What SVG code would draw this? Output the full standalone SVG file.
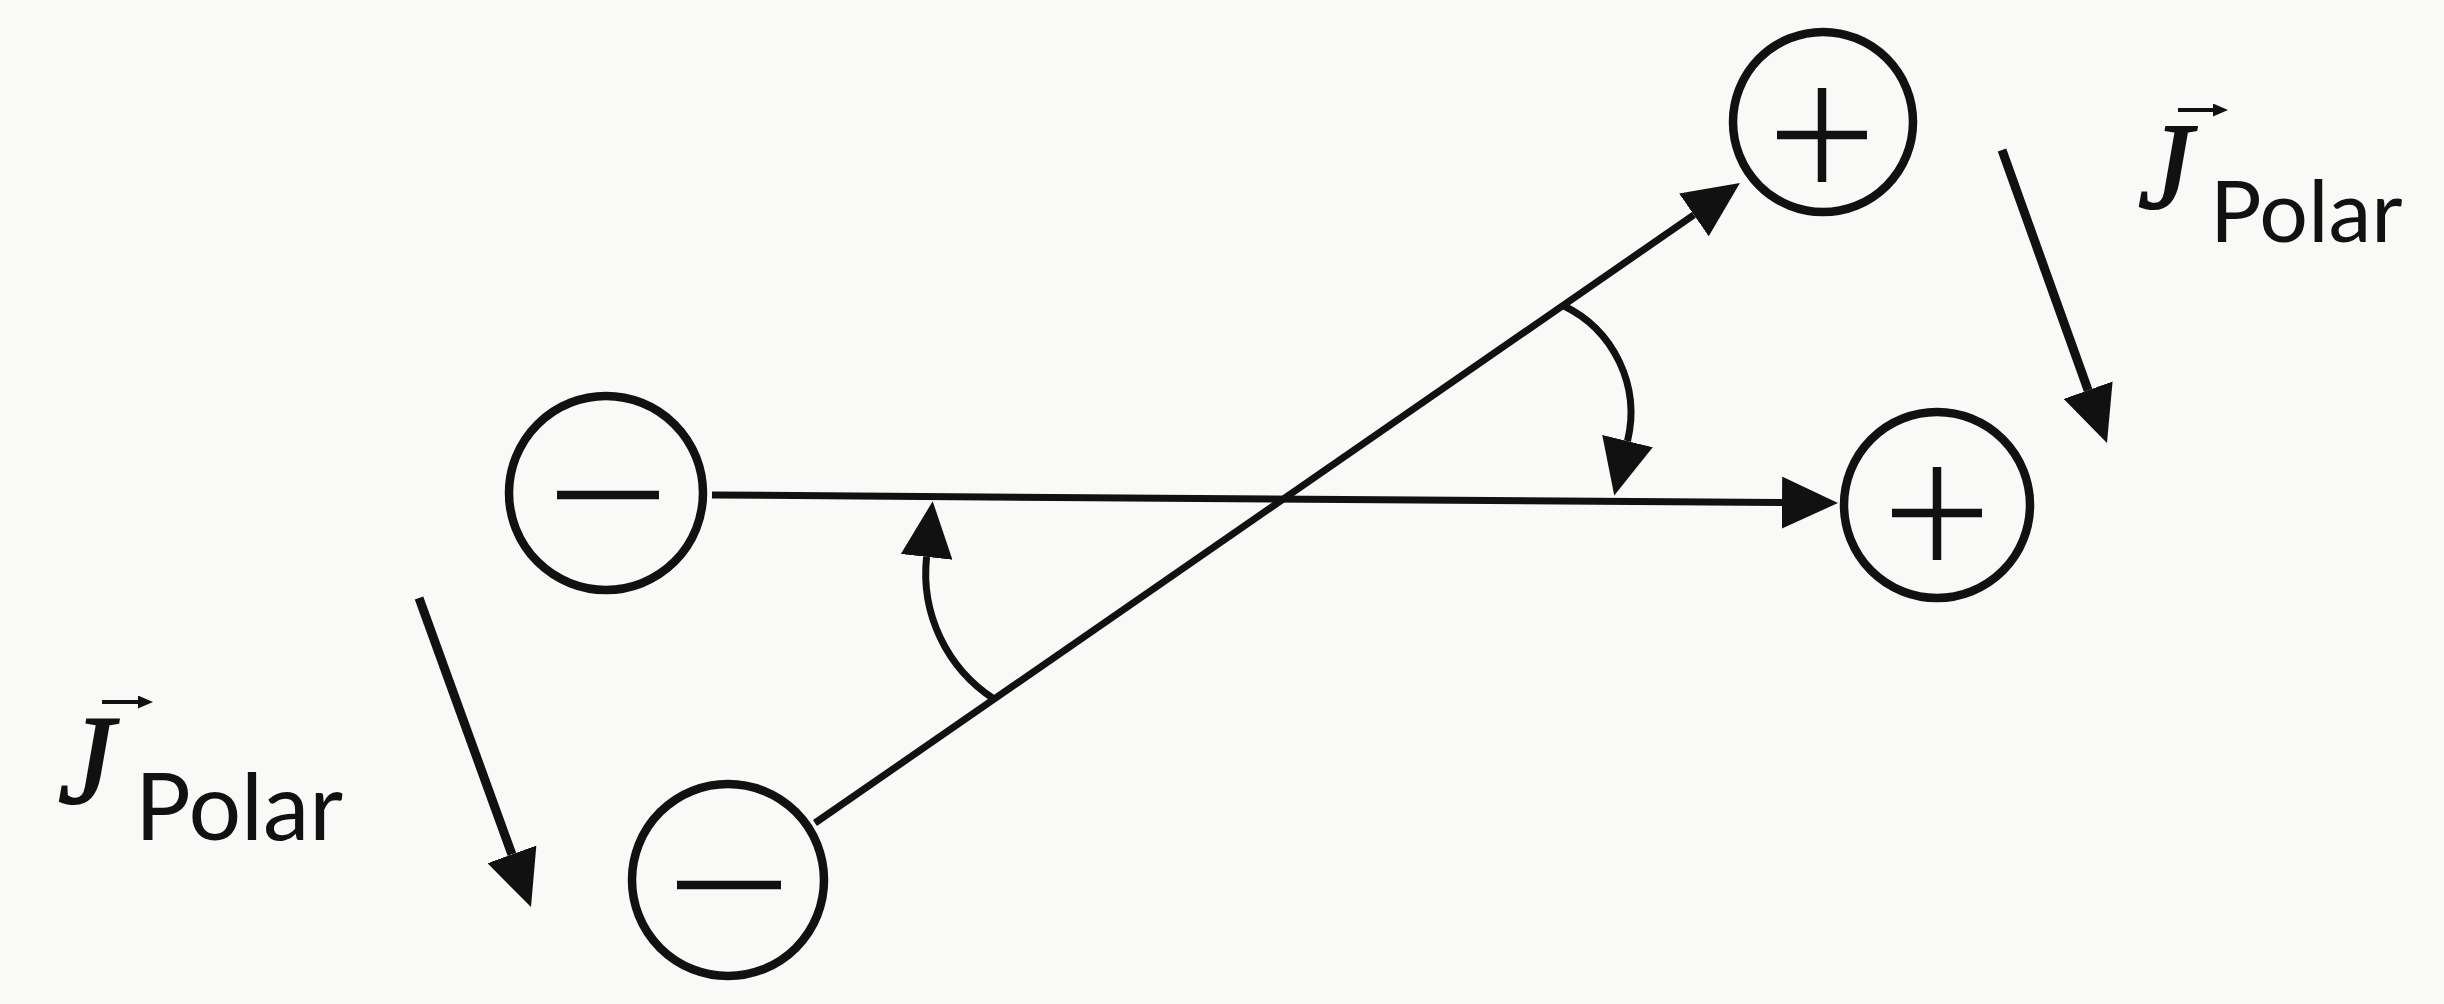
<svg xmlns="http://www.w3.org/2000/svg" width="2444" height="1004" viewBox="0 0 2444 1004">
  <style>
    .ring { fill: none; stroke: #111; stroke-width: 8.5; }
    .sign { stroke: #111; stroke-width: 8.5; stroke-linecap: butt; fill: none; }
    .ln { stroke: #111; stroke-width: 7; fill: none; }
    .jarrow { stroke: #111; stroke-width: 9; fill: none; }
    .vec { stroke: #111; stroke-width: 4; fill: none; }
    .jsym { font-family: "Liberation Serif", "DejaVu Serif", serif; font-style: italic; fill: #111; stroke: #111; stroke-width: 2; }
    .sub { font-family: Lato, "Liberation Sans", sans-serif; fill: #111; }
  </style>
  <defs>
    <marker id="ah" markerUnits="userSpaceOnUse" viewBox="0 0 56 52" markerWidth="56" markerHeight="52" refX="0" refY="26" orient="auto">
      <path d="M0,0 L56,26 L0,52 z" fill="#111"/>
    </marker>
    <marker id="ahs" markerUnits="userSpaceOnUse" viewBox="0 0 15 13" markerWidth="15" markerHeight="13" refX="0" refY="6.5" orient="auto">
      <path d="M0,0 L15,6.5 L0,13 z" fill="#111"/>
    </marker>
  </defs>
  <rect x="0" y="0" width="2444" height="1004" fill="#f9f9f8"/>

  <g id="connectors">
    <path id="horizontal" class="ln" d="M712,495 L1782,502.6" marker-end="url(#ah)"/>
    <path id="diagonal" class="ln" d="M815,823 L1693.9,214.9" marker-end="url(#ah)"/>
    <path id="angle-lower" class="ln" d="M994,699 A150,150 0 0 1 926.6,556.9" marker-end="url(#ah)"/>
    <path id="angle-upper" class="ln" d="M1563,305.5 A119,119 0 0 1 1627.5,441.1" marker-end="url(#ah)"/>
    <path id="j-arrow-right" class="jarrow" d="M2002,150 L2088.1,390.2" marker-end="url(#ah)"/>
    <path id="j-arrow-left" class="jarrow" d="M419,598 L511.9,854.4" marker-end="url(#ah)"/>
  </g>

  <g id="node-plus-top">
    <circle class="ring" cx="1823" cy="122" r="90"/>
    <path class="sign" d="M1777,135 H1867 M1822,88 V182"/>
  </g>
  <g id="node-plus-right">
    <circle class="ring" cx="1937" cy="505" r="93"/>
    <path class="sign" d="M1892,513 H1982 M1937,467 V560"/>
  </g>
  <g id="node-minus-left">
    <circle class="ring" cx="606" cy="493" r="97"/>
    <path class="sign" d="M557,495 H659"/>
  </g>
  <g id="node-minus-bottom">
    <circle class="ring" cx="728" cy="880" r="96"/>
    <path class="sign" d="M677,885 H781"/>
  </g>

  <g id="label-right">
    <text class="jsym" x="2138" y="208" font-size="122">J</text>
    <path class="vec" d="M2178,110 H2213" marker-end="url(#ahs)"/>
    <text class="sub" x="2210" y="242" font-size="86">Polar</text>
  </g>
  <g id="label-left">
    <text class="jsym" x="58" y="803" font-size="126">J</text>
    <path class="vec" d="M102,702 H138" marker-end="url(#ahs)"/>
    <text class="sub" x="135" y="840" font-size="93">Polar</text>
  </g>
</svg>
